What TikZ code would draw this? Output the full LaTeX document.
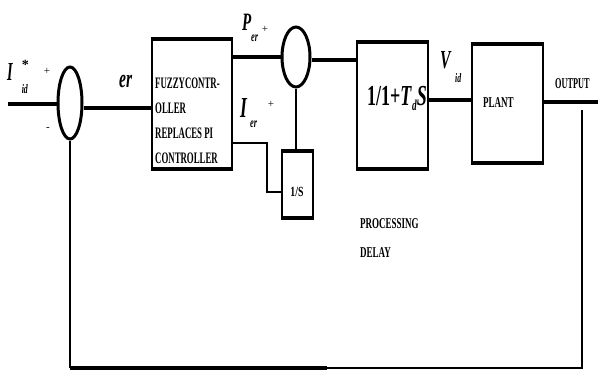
\documentclass[tikz,border=0pt]{standalone}
\usepackage{fontspec}
\setmainfont{Liberation Serif}
\usepackage{graphicx}
\usetikzlibrary{shapes.geometric,calc}
\newcommand\cx[2][0.6]{\scalebox{#1}[1]{#2}}
\begin{document}
\begin{tikzpicture}[x=1pt,y=-1pt,
  blk/.style={draw,line width=2pt,inner sep=0pt},
  sumj/.style={draw,ellipse,line width=3pt,inner sep=0pt},
  sig/.style={line width=4pt},
  thin/.style={line width=2pt},
  lab/.style={inner sep=0pt,font=\bfseries},
  ilab/.style={inner sep=0pt,font=\bfseries\itshape}]
\useasboundingbox[fill=white] (0,0) rectangle (598,373);
% blocks
\node[blk,minimum width=80pt,minimum height=128pt] (fz) at (192,104) {};
\node[blk,minimum width=31pt,minimum height=65pt] (ig) at (297.5,184.5) {};
\node[blk,minimum width=71pt,minimum height=125pt] (dl) at (392.5,105.5) {};
\node[blk,minimum width=71pt,minimum height=117pt] (pl) at (507.5,103.5) {};
\foreach \b in {fz,ig,dl,pl}{
  \draw[line width=4pt] (\b.north west) -- (\b.north east);
  \draw[line width=4pt] (\b.south west) -- (\b.south east);}
% summing junctions
\node[sumj,minimum width=24pt,minimum height=72pt] (s1) at (70,103) {};
\node[sumj,minimum width=28pt,minimum height=60pt] (s2) at (296,57) {};
% free ends
\coordinate (in) at (8,104);
\coordinate (out) at (598,102);
\coordinate (fbt) at (582,110);
\coordinate (bot) at (70,368);
\coordinate (mid) at (327,368);
% connectors
\draw[sig] (in) -- (s1.west |- in);
\draw[sig] (s1.east |- 0,108) -- (fz.west |- 0,108);
\draw[sig] (fz.east |- s2) -- (s2.west);
\draw[sig] (s2.east |- 0,60) -- (dl.west |- 0,60);
\draw[sig] (pl.west |- 0,100) -- (dl.east |- 0,100);
\draw[sig] (out) -- (pl.east |- out);
\draw[thin] (fz.east |- 0,143) -| ($(ig.west)+(-14,0)$) |- ($(ig.west)+(0,7)$);
\draw[thin] (s2.south) -- (s2.south |- ig.north);
\draw[thin] (fbt) |- (mid);
\draw[sig] (mid) -- (bot);
\draw[thin] (bot) -- (s1.south);
% labels
\node[ilab,anchor=base west] at (7,80) {{\fontsize{26}{26}\selectfont\cx[0.55]{I}}\hspace{9pt}\rlap{\raisebox{11pt}{\upshape\fontsize{14}{14}\selectfont *}}\raisebox{-13pt}{\fontsize{13}{13}\selectfont\cx{id}}};
\node[lab,anchor=base,font=\fontsize{11}{11}\selectfont] at (47,74) {+};
\node[lab,anchor=base,font=\fontsize{11}{11}\selectfont] at (48,130) {-};
\node[ilab,anchor=base west,font=\bfseries\itshape\fontsize{26}{26}\selectfont] at (119,87) {\cx{er}};
\node[ilab,anchor=base west,font=\bfseries\itshape\fontsize{25}{25}\selectfont] at (242,30) {\cx{P}};
\node[ilab,anchor=base west,font=\bfseries\itshape\fontsize{14}{14}\selectfont] at (251,41) {\cx{er}};
\node[lab,anchor=base,font=\fontsize{11}{11}\selectfont] at (265,32) {+};
\node[ilab,anchor=base west,font=\bfseries\itshape\fontsize{29}{29}\selectfont] at (240,117) {\cx{I}};
\node[ilab,anchor=base west,font=\bfseries\itshape\fontsize{14}{14}\selectfont] at (250,127) {\cx{er}};
\node[lab,anchor=base,font=\fontsize{11}{11}\selectfont] at (271,107) {+};
\node[ilab,anchor=base west,font=\bfseries\itshape\fontsize{26}{26}\selectfont] at (440,68) {\cx{V}};
\node[ilab,anchor=base west,font=\bfseries\itshape\fontsize{13}{13}\selectfont] at (455,82) {\cx{id}};
\foreach \t [count=\i] in {FUZZYCONTR-,OLLER,REPLACES PI,CONTROLLER}
  \node[lab,anchor=base west,font=\bfseries\fontsize{16}{16}\selectfont] at (155,63+25*\i) {\cx[0.55]{\t}};
\node[lab,anchor=base,font=\bfseries\fontsize{29}{29}\selectfont] at (397,105) {\cx[0.62]{1/1+\textit{T}\raisebox{-5pt}{\fontsize{15}{15}\selectfont\textit{d}}\textit{S}}};
\node[lab,anchor=base,font=\bfseries\fontsize{14}{14}\selectfont] at (297,196) {\cx[0.7]{1/S}};
\node[lab,anchor=base west,font=\bfseries\fontsize{15}{15}\selectfont] at (483,107) {\cx[0.6]{PLANT}};
\node[lab,anchor=base west,font=\bfseries\fontsize{15}{15}\selectfont] at (555,88) {\cx[0.55]{OUTPUT}};
\node[lab,anchor=base west,font=\bfseries\fontsize{15}{15}\selectfont] at (360,228) {\cx[0.6]{PROCESSING}};
\node[lab,anchor=base west,font=\bfseries\fontsize{15}{15}\selectfont] at (360,257) {\cx[0.6]{DELAY}};
\end{tikzpicture}
\end{document}
